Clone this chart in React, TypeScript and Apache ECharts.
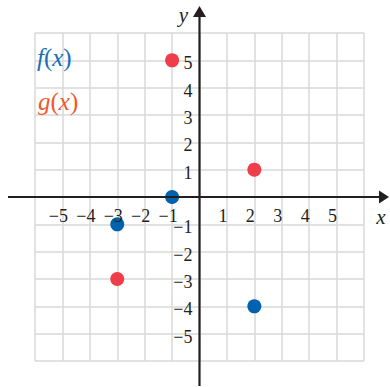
import React, { useEffect, useRef } from "react";
import * as echarts from "echarts";

const fPoints: [number, number][] = [
  [-1, 0],
  [-3, -1],
  [2, -4],
];
const gPoints: [number, number][] = [
  [-1, 5],
  [2, 1],
  [-3, -3],
];
const axisMin = -6;
const axisMax = 6;
const labelledTicks = [-5, -4, -3, -2, -1, 1, 2, 3, 4, 5];

const INK = "#231f20";
const SERIF = "Liberation Serif";

function tickText(v: number) {
  return v < 0 ? "\u2212" + Math.abs(v) : String(v);
}

export default function App() {
  const ref = useRef<HTMLDivElement>(null);
  useEffect(() => {
    document.body.style.margin = "0";
    if (!ref.current) return;
    const chart = echarts.init(ref.current, null, { renderer: "svg" });
    const splitLine = { show: true, lineStyle: { color: "#d9d9d9", width: 1.5 } };
    chart.setOption({
      animation: false,
      grid: { left: 35, right: 26, top: 33, bottom: 26 },
      xAxis: {
        type: "value",
        min: axisMin,
        max: axisMax,
        interval: 1,
        axisLine: { show: false },
        axisTick: { show: false },
        axisLabel: { show: false },
        splitLine,
      },
      yAxis: {
        type: "value",
        min: axisMin,
        max: axisMax,
        interval: 1,
        axisLine: { show: false },
        axisTick: { show: false },
        axisLabel: { show: false },
        splitLine,
      },
      series: [
        {
          name: "f(x)",
          type: "scatter",
          data: fPoints,
          symbolSize: 14,
          itemStyle: { color: "#0061ae", opacity: 1 },
          z: 5,
        },
        {
          name: "g(x)",
          type: "scatter",
          data: gPoints,
          symbolSize: 14,
          itemStyle: { color: "#ef3e4a", opacity: 1 },
          z: 5,
        },
      ],
    });
    const px = (x: number, y: number) => chart.convertToPixel({ gridIndex: 0 }, [x, y]) as number[];
    const o = px(0, 0);
    const ox = o[0];
    const oy = o[1];
    const axisStyle = { stroke: INK, lineWidth: 2.2 };
    const legendText = (x: number, y: number, fn: string, color: string) => ({
      type: "text",
      x,
      y,
      style: {
        text: `{i|${fn}}{n|(}{i|x}{n|)}`,
        verticalAlign: "middle",
        rich: {
          i: { fontFamily: SERIF, fontStyle: "italic", fontSize: 25, fill: color },
          n: { fontFamily: SERIF, fontSize: 25, fill: color },
        },
      },
      z: 10,
    });
    const tickStyle = { fontFamily: SERIF, fontSize: 18, fill: INK, verticalAlign: "middle" };
    const xTicks = labelledTicks.map((v) => {
      const p = px(v, 0);
      return {
        type: "text",
        x: p[0] - 4,
        y: oy + 19,
        style: { ...tickStyle, text: tickText(v), align: "center" },
        z: 10,
      };
    });
    const yTicks = labelledTicks.map((v) => {
      const p = px(0, v);
      return {
        type: "text",
        x: ox - 7,
        y: p[1] + 3,
        style: { ...tickStyle, text: tickText(v), align: "right" },
        z: 10,
      };
    });
    chart.setOption({
      graphic: [
        { type: "line", shape: { x1: 8, y1: oy, x2: 381, y2: oy }, style: axisStyle, z: 10 },
        {
          type: "polygon",
          shape: { points: [[379, oy - 6.5], [389, oy], [379, oy + 6.5]] },
          style: { fill: INK },
          z: 10,
        },
        { type: "line", shape: { x1: ox, y1: 386, x2: ox, y2: 15 }, style: axisStyle, z: 10 },
        {
          type: "polygon",
          shape: { points: [[ox - 6.5, 17], [ox, 6], [ox + 6.5, 17]] },
          style: { fill: INK },
          z: 10,
        },
        {
          type: "text",
          x: 381,
          y: oy + 20,
          style: {
            text: "x",
            fontFamily: SERIF,
            fontStyle: "italic",
            fontSize: 21,
            fill: INK,
            align: "center",
            verticalAlign: "middle",
          },
          z: 10,
        },
        {
          type: "text",
          x: ox - 16,
          y: 15,
          style: {
            text: "y",
            fontFamily: SERIF,
            fontStyle: "italic",
            fontSize: 21,
            fill: INK,
            align: "center",
            verticalAlign: "middle",
          },
          z: 10,
        },
        ...xTicks,
        ...yTicks,
        legendText(37, 57, "f", "#1a6fb5"),
        legendText(38, 101, "g", "#f05a2c"),
      ],
    });
    return () => chart.dispose();
  }, []);
  return <div ref={ref} style={{ width: 390, height: 387 }} />;
}
